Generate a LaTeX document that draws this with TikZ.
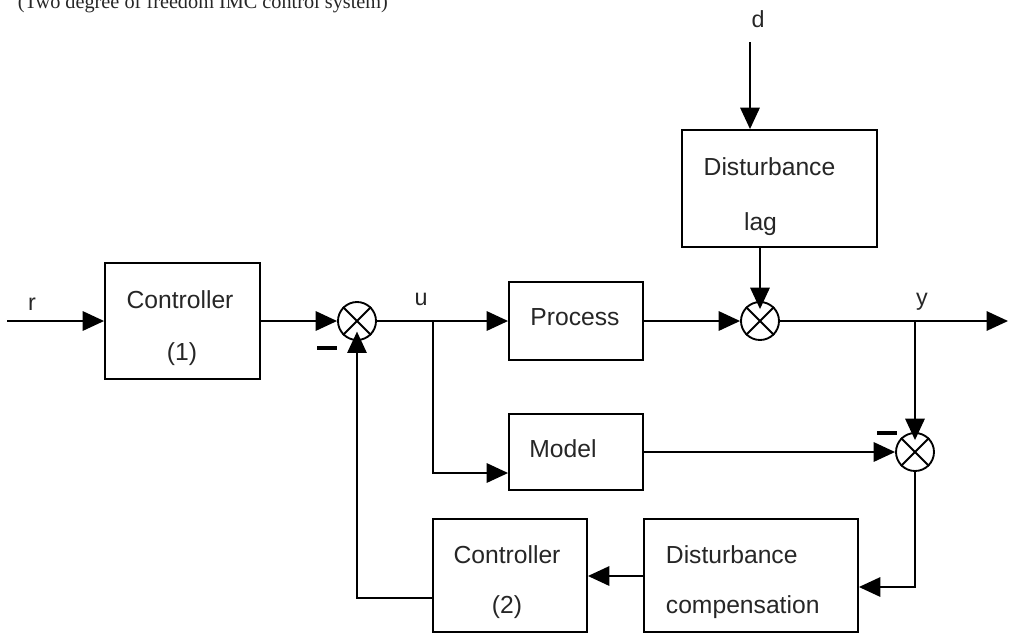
\documentclass[tikz,border=0pt]{standalone}
\usepackage{fontspec}
\setmainfont{Liberation Serif}
\setsansfont{Liberation Sans}
\usetikzlibrary{arrows.meta}

\begin{document}
\begin{tikzpicture}[x=0.75pt,y=-0.75pt,
  line width=1.4pt,
  blk/.style={draw, line width=1.4pt, inner sep=0pt},
  sumj/.style={draw, circle, minimum size=28.5pt, inner sep=0pt, line width=1.4pt},
  sig/.style={-{Triangle[length=16pt,width=14.5pt]}},
  boxtxt/.style={font=\sffamily\fontsize{18.5}{22}\selectfont, inner sep=0pt, text=black!85, anchor=base},
  lbl/.style={font=\sffamily\fontsize{17.5}{20}\selectfont, inner sep=0pt, text=black!85, anchor=base},
  minus/.style={line width=3.5pt}
]
\useasboundingbox (0,0) rectangle (1010,633);

% title
\node[font=\fontsize{15.2}{18}\selectfont, text=black!85, inner sep=0pt, anchor=base west]
  (title) at (17,8) {(Two degree of freedom IMC control system)};

% blocks
\node[blk, minimum width=116.25pt, minimum height=87pt]    (c1)   at (182.5,321) {};
\node[blk, minimum width=100.5pt,  minimum height=58.5pt]  (proc) at (576,321) {};
\node[blk, minimum width=100.5pt,  minimum height=57pt]    (model) at (576,452) {};
\node[blk, minimum width=146.25pt, minimum height=87.75pt] (dlag) at (779.5,188.5) {};
\node[blk, minimum width=115.5pt,  minimum height=84.75pt] (c2)   at (510,575.5) {};
\node[blk, minimum width=160.5pt,  minimum height=84.75pt] (dc)   at (751,575.5) {};

% block texts
\node[boxtxt] (c1a) at (180,308) {Controller};
\node[boxtxt] (c1b) at (182,360) {(1)};
\node[boxtxt] (proct) at (575,325) {Process};
\node[boxtxt] (modelt) at (563,457) {Model};
\node[boxtxt] (dlaga) at (769.5,175) {Disturbance};
\node[boxtxt] (dlagb) at (760.5,230) {lag};
\node[boxtxt] (c2a) at (507,563) {Controller};
\node[boxtxt] (c2b) at (507,613) {(2)};
\node[boxtxt, anchor=base west] (dca) at (665,563) {Disturbance};
\node[boxtxt, anchor=base west] (dcb) at (665,613) {compensation};

% summing junctions
\node[sumj] (j1) at (357,321) {};
\node[sumj] (j3) at (760,321) {};
\node[sumj] (j2) at (915,452) {};
\foreach \j in {j1,j2,j3}
  \draw (\j.north west) -- (\j.south east) (\j.north east) -- (\j.south west);

% signal labels
\node[lbl] (rl) at (32,310) {r};
\node[lbl] (ul) at (421,305) {u};
\node[lbl] (dl) at (758,27) {d};
\node[lbl] (yl) at (922,305) {y};

% free ends and branch points
\coordinate (rin)  at (7,321);
\coordinate (ub)   at (433,321);
\coordinate (mi)   at (433,473);
\coordinate (din)  at (750,42);
\coordinate (yb)   at (915,321);
\coordinate (yout) at (1008,321);
\coordinate (fb)   at (915,587);
\coordinate (cc)   at (640,576);
\coordinate (c2o)  at (357,598);

% connectors
\draw[sig] (rin) -- (c1.west);
\draw[sig] (c1.east) -- (j1.west);
\draw[sig] (j1.east) -- (proc.west);
\draw[sig] (ub) -- (mi) -- (model.west |- mi);
\draw[sig] (proc.east) -- (j3.west);
\draw[sig] (din) -- (din |- dlag.north);
\draw[sig, shorten >=-6pt] (dlag.south -| j3) -- (j3.north);
\draw[sig] (j3.east) -- (yout);
\draw[sig, shorten >=-6pt] (yb) -- (j2.north);
\draw[sig] (model.east |- j2) -- (j2.west);
\draw[sig] (j2.south) -- (fb) -- (dc.east |- fb);
\draw[sig] (dc.west |- cc) -- (c2.east |- cc);
\draw[sig, shorten >=-7pt] (c2.west |- c2o) -- (c2o) -- (j1.south);

% minus signs
\draw[minus] (317,348) -- (337,348);
\draw[minus] (877,433) -- (897,433);
\end{tikzpicture}
\end{document}
